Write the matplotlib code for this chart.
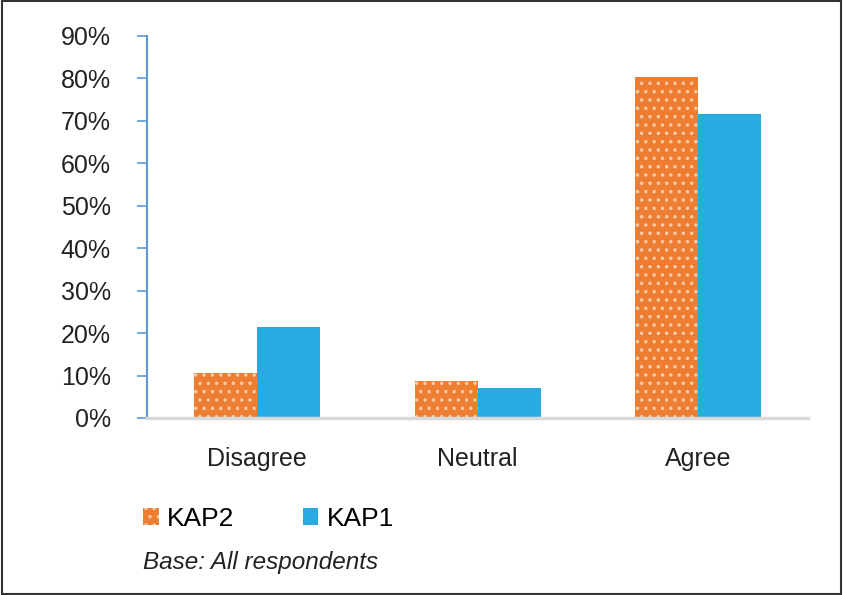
import numpy as np
import matplotlib.pyplot as plt
from matplotlib.patches import Rectangle

categories = ['Disagree', 'Neutral', 'Agree']
kap2 = [0.106, 0.087, 0.804]
kap1 = [0.215, 0.071, 0.717]
yticks = [0, 0.1, 0.2, 0.3, 0.4, 0.5, 0.6, 0.7, 0.8, 0.9]

orange = '#ED7D31'
blue = '#29ABE2'

plt.rcParams['font.family'] = ['Liberation Sans', 'DejaVu Sans']
plt.rcParams['hatch.linewidth'] = 1.3

fig = plt.figure(figsize=(8.43, 5.95), dpi=100)
ax = fig.add_axes([0.1744, 0.2975, 0.7841, 0.642])

x = np.arange(len(categories))
w = 0.286
ax.bar(x - w / 2, kap2, w, color=orange, edgecolor='#F8CBA8', linewidth=0,
       hatch='..', label='KAP2')
ax.bar(x + w / 2, kap1, w, color=blue, linewidth=0, label='KAP1')

ax.set_xlim(-0.5, 2.5)
ax.set_ylim(0, 0.9)
ax.set_yticks(yticks)
ax.set_yticklabels([f'{int(round(v * 100))}%' for v in yticks], fontsize=18, color='#222222')
ax.set_xticks(x)
ax.set_xticklabels(categories, fontsize=18, color='#222222')
ax.tick_params(axis='x', length=0, pad=21)
ax.tick_params(axis='y', length=7, width=1.2, color='#5B9BD5', pad=19)

for s in ['top', 'right']:
    ax.spines[s].set_visible(False)
ax.spines['left'].set_color('#5B9BD5')
ax.spines['left'].set_linewidth(1.5)
ax.spines['bottom'].set_color('#D9D9D9')
ax.spines['bottom'].set_linewidth(2.5)

leg = fig.legend(loc='center left', bbox_to_anchor=(0.157, 0.128), ncol=2, frameon=False,
                 fontsize=19, handlelength=0.6, handleheight=0.6, handletextpad=0.3,
                 columnspacing=2.6, borderaxespad=0)
fig.text(0.17, 0.054, 'Base: All respondents', fontsize=17.5, style='italic',
         color='#222222', ha='left', va='center')

fig.patches.append(Rectangle((0.002, 0.002), 0.996, 0.996, transform=fig.transFigure,
                             fill=False, edgecolor='#333333', linewidth=1.5))

fig.savefig('out.png', dpi=100)
